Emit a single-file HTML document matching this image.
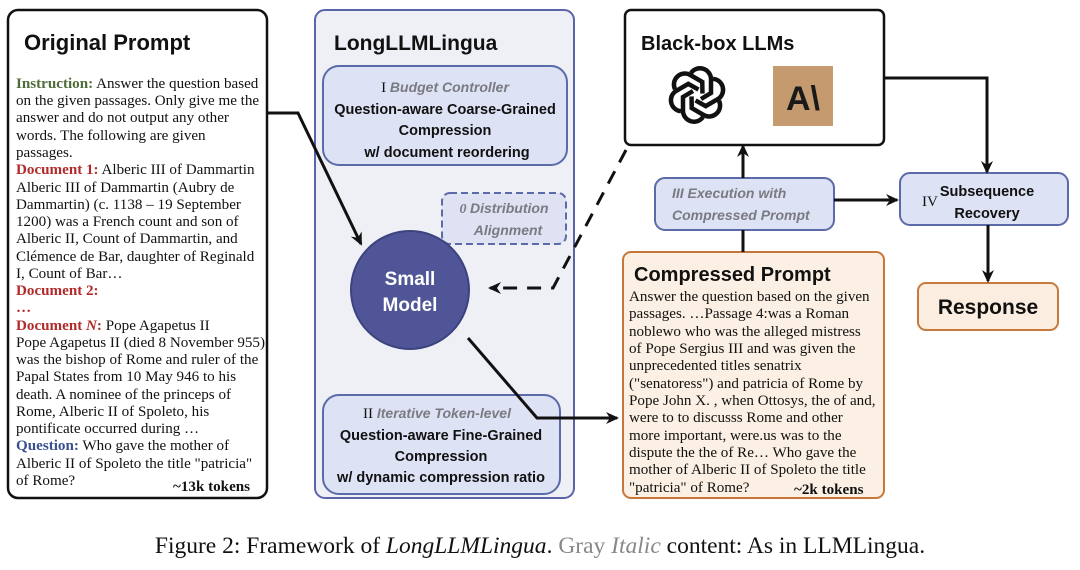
<!DOCTYPE html>
<html><head><meta charset="utf-8"><style>
html,body{margin:0;padding:0;background:#fff;}
svg{display:block;}
.s{font-family:"Liberation Serif",serif;font-size:15.1px;fill:#111;}
.b{font-family:"Liberation Sans",sans-serif;font-weight:bold;}
.gi{font-family:"Liberation Sans",sans-serif;font-weight:bold;font-style:italic;fill:#7a7a82;font-size:14px;}
</style></head><body>
<svg width="1080" height="570" viewBox="0 0 1080 570" xmlns="http://www.w3.org/2000/svg">
<defs>
<marker id="ah" markerWidth="14" markerHeight="14" refX="11" refY="7" orient="auto" markerUnits="userSpaceOnUse">
<path d="M0,1 L13,7 L0,13 L4,7 z" fill="#111"/></marker>
</defs>

<!-- Original Prompt -->
<rect x="8" y="10" width="259" height="488" rx="10" fill="#fff" stroke="#111" stroke-width="2.5"/>
<text x="24" y="50" class="b" font-size="22" fill="#111">Original Prompt</text>
<g class="s">
<text x="16" y="88"><tspan fill="#4f6b3a" font-weight="bold">Instruction:</tspan> Answer the question based</text>
<text x="16" y="105">on the given passages. Only give me the</text>
<text x="16" y="122">answer and do not output any other</text>
<text x="16" y="140">words. The following are given</text>
<text x="16" y="157">passages.</text>
<text x="16" y="174"><tspan fill="#b22a2a" font-weight="bold">Document 1:</tspan> Alberic III of Dammartin</text>
<text x="16" y="192">Alberic III of Dammartin (Aubry de</text>
<text x="16" y="209">Dammartin) (c. 1138 – 19 September</text>
<text x="16" y="226">1200) was a French count and son of</text>
<text x="16" y="243">Alberic II, Count of Dammartin, and</text>
<text x="16" y="261">Clémence de Bar, daughter of Reginald</text>
<text x="16" y="278">I, Count of Bar…</text>
<text x="16" y="295" fill="#b22a2a" font-weight="bold">Document 2:</text>
<text x="16" y="312" fill="#b22a2a" font-weight="bold">…</text>
<text x="16" y="330"><tspan fill="#b22a2a" font-weight="bold">Document <tspan font-style="italic">N</tspan>:</tspan> Pope Agapetus II</text>
<text x="16" y="347">Pope Agapetus II (died 8 November 955)</text>
<text x="16" y="364">was the bishop of Rome and ruler of the</text>
<text x="16" y="381">Papal States from 10 May 946 to his</text>
<text x="16" y="399">death. A nominee of the princeps of</text>
<text x="16" y="416">Rome, Alberic II of Spoleto, his</text>
<text x="16" y="433">pontificate occurred during …</text>
<text x="16" y="450"><tspan fill="#3a4f8f" font-weight="bold">Question:</tspan> Who gave the mother of</text>
<text x="16" y="468">Alberic II of Spoleto the title "patricia"</text>
<text x="16" y="485">of Rome?</text>
<text x="173" y="491" font-weight="bold">~13k tokens</text>
</g>

<!-- LongLLMLingua -->
<rect x="315" y="10" width="259" height="488" rx="10" fill="#eef0f6" stroke="#5a64a8" stroke-width="2"/>
<text x="334" y="50" class="b" font-size="21" fill="#111">LongLLMLingua</text>
<rect x="323" y="66" width="244" height="99" rx="16" fill="#dde2f4" stroke="#5b6aa8" stroke-width="2"/>
<text x="445" y="92" text-anchor="middle"><tspan class="s" font-size="16">I </tspan><tspan class="gi">Budget Controller</tspan></text>
<g class="b" font-size="14.5" fill="#111" text-anchor="middle">
<text x="445" y="114">Question-aware Coarse-Grained</text>
<text x="445" y="135">Compression</text>
<text x="447" y="157">w/ document reordering</text>
</g>
<rect x="442" y="193" width="124" height="51" rx="8" fill="#dfe2f3" stroke="#5b6aa8" stroke-width="2" stroke-dasharray="7,4"/>
<text x="504" y="213" text-anchor="middle" class="gi"><tspan font-family="Liberation Serif">0 </tspan>Distribution</text>
<text x="508" y="235" text-anchor="middle" class="gi">Alignment</text>
<circle cx="410" cy="290" r="59" fill="#4f5596" stroke="#3d437e" stroke-width="2"/>
<text x="410" y="285" text-anchor="middle" class="b" font-size="19" fill="#fff">Small</text>
<text x="410" y="311" text-anchor="middle" class="b" font-size="19" fill="#fff">Model</text>
<rect x="323" y="395" width="237" height="99" rx="16" fill="#dde2f4" stroke="#5b6aa8" stroke-width="2"/>
<text x="437" y="418" text-anchor="middle"><tspan class="s" font-size="16">II </tspan><tspan class="gi">Iterative Token-level</tspan></text>
<g class="b" font-size="14.5" fill="#111" text-anchor="middle">
<text x="441" y="440">Question-aware Fine-Grained</text>
<text x="441" y="461">Compression</text>
<text x="441" y="482">w/ dynamic compression ratio</text>
</g>

<!-- Black-box LLMs -->
<rect x="625" y="10" width="259" height="135" rx="6" fill="#fff" stroke="#111" stroke-width="2.5"/>
<text x="641" y="50" class="b" font-size="20" fill="#111">Black-box LLMs</text>
<g transform="translate(697,95)" fill="none" stroke="#111" stroke-width="4.5">
<g id="pet"><path d="M-6,-22 a11,11 0 0 1 20,6 v14 l-10,6"/></g>
<use href="#pet" transform="rotate(60)"/><use href="#pet" transform="rotate(120)"/>
<use href="#pet" transform="rotate(180)"/><use href="#pet" transform="rotate(240)"/><use href="#pet" transform="rotate(300)"/>
</g>
<rect x="773" y="66" width="60" height="60" fill="#c49a6e"/>
<text x="803" y="110" text-anchor="middle" class="b" font-size="34" fill="#1a1a1a">A\</text>

<!-- III -->
<rect x="655" y="178" width="179" height="52" rx="10" fill="#dde2f4" stroke="#5b6aa8" stroke-width="2"/>
<text x="672" y="198" class="gi" font-size="14.5">III Execution with</text>
<text x="672" y="220" class="gi" font-size="14.5">Compressed Prompt</text>

<!-- IV -->
<rect x="900" y="173" width="168" height="52" rx="10" fill="#dde2f4" stroke="#5b6aa8" stroke-width="2"/>
<text x="922" y="206" class="s" font-size="16">IV</text>
<text x="987" y="196" text-anchor="middle" class="b" font-size="14.5" fill="#111">Subsequence</text>
<text x="987" y="218" text-anchor="middle" class="b" font-size="14.5" fill="#111">Recovery</text>

<!-- Response -->
<rect x="918" y="283" width="140" height="47" rx="8" fill="#fbeee0" stroke="#c87a3c" stroke-width="2"/>
<text x="988" y="314" text-anchor="middle" class="b" font-size="21" fill="#111">Response</text>

<!-- Compressed Prompt -->
<rect x="623" y="252" width="261" height="246" rx="8" fill="#fbf0e3" stroke="#c8773a" stroke-width="2"/>
<text x="634" y="281" class="b" font-size="20" fill="#111">Compressed Prompt</text>
<g class="s" font-size="14.5">
<text x="629" y="301">Answer the question based on the given</text>
<text x="629" y="318">passages. …Passage 4:was a Roman</text>
<text x="629" y="336">noblewo who was the alleged mistress</text>
<text x="629" y="353">of Pope Sergius III and was given the</text>
<text x="629" y="370">unprecedented titles senatrix</text>
<text x="629" y="388">("senatoress") and patricia of Rome by</text>
<text x="629" y="405">Pope John X. , when Ottosys, the of and,</text>
<text x="629" y="422">were to to discusss Rome and other</text>
<text x="629" y="440">more important, were.us was to the</text>
<text x="629" y="457">dispute the the of Re… Who gave the</text>
<text x="629" y="474">mother of Alberic II of Spoleto the title</text>
<text x="629" y="492">"patricia" of Rome?</text>
<text x="794" y="494" font-weight="bold">~2k tokens</text>
</g>

<!-- connectors -->
<g stroke="#111" stroke-width="3" fill="none">
<path d="M267,113 H298 L361,244" marker-end="url(#ah)"/>
<path d="M468,338 L537,418 H617" marker-end="url(#ah)"/>
<path d="M626,150 L553,288 H490" stroke-dasharray="14,10" marker-end="url(#ah)"/>
<path d="M743,178 V146" marker-end="url(#ah)"/>
<path d="M743,230 V252"/>
<path d="M834,200 H897" marker-end="url(#ah)"/>
<path d="M884,78 H987 V172" marker-end="url(#ah)"/>
<path d="M988,225 V281" marker-end="url(#ah)"/>
</g>

<!-- caption -->
<text x="540" y="553" text-anchor="middle" font-family="Liberation Serif, serif" font-size="23.5" fill="#111">Figure 2: Framework of <tspan font-style="italic">LongLLMLingua</tspan>. <tspan fill="#888">Gray <tspan font-style="italic">Italic</tspan></tspan> content: As in LLMLingua.</text>
</svg>
</body></html>
